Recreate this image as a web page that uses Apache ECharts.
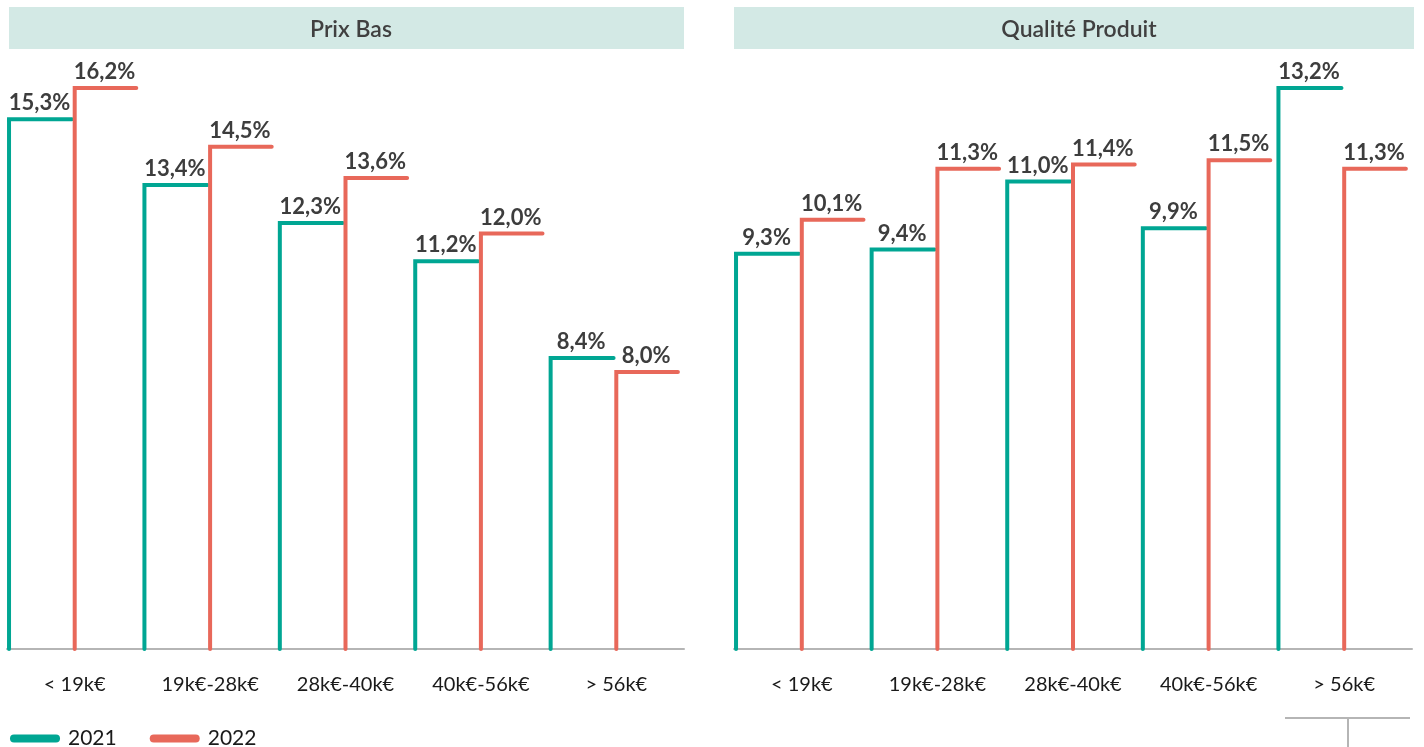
<!DOCTYPE html>
<html><head><meta charset="utf-8">
<script src="https://cdn.jsdelivr.net/npm/echarts@6/dist/echarts.min.js"></script>
<style>html,body{margin:0;padding:0;background:#fff}#c{width:1424px;height:747px}</style>
</head><body><div id="c"></div>
<script>
const categories = ['< 19k€', '19k€-28k€', '28k€-40k€', '40k€-56k€', '> 56k€'];
const prixBas2021 = [15.3, 13.4, 12.3, 11.2, 8.4];
const prixBas2022 = [16.2, 14.5, 13.6, 12.0, 8.0];
const qualite2021 = [9.3, 9.4, 11.0, 9.9, 13.2];
const qualite2022 = [10.1, 11.3, 11.4, 11.5, 11.3];
const panelTitles = ['Prix Bas', 'Qualité Produit'];
const years = ['2021', '2022'];

const TEAL = '#00a693', CORAL = '#e8685a';
const FONT = 'Lato, "Open Sans", sans-serif';

function fmt(v){ return v.toFixed(1).replace('.', ',') + '%'; }

function makeRender(offStart, offEnd, color){
  return function(params, api){
    const i = api.value(0), v = api.value(1);
    const top = api.coord([i, v]);
    const base = api.coord([i, 0]);
    const w = api.size([1, 0])[0];
    const x0 = top[0] + w*offStart, x1 = top[0] + w*offEnd;
    return {
      type: 'group',
      children: [
        {type:'polyline', shape:{points:[[x0, base[1]], [x0, top[1]], [x1, top[1]]]},
         style:{stroke:color, lineWidth:4, fill:null, lineJoin:'miter', lineCap:'round'}},
        {type:'text', style:{text:fmt(v), x:(x0+x1)/2 - 1, y:top[1]-5, align:'center', verticalAlign:'bottom',
          fill:'#3d3d3d', font:'bold 22px ' + FONT}}
      ]
    };
  };
}

const grids = [
  {left:7, width:677, top:88, height:561},
  {left:734, width:678, top:88, height:561}
];
const xAxes = grids.map((g, k) => ({
  type:'category', gridIndex:k, data:categories,
  axisLine:{lineStyle:{color:'#b5b5b5', width:2}}, axisTick:{show:false},
  axisLabel:{color:'#1a1a1a', fontSize:20, fontFamily:FONT, margin:26, interval:0}
}));
const yAxes = grids.map((g, k) => ({
  type:'value', gridIndex:k, min:0, max:function(e){return e.max;},
  show:false, splitLine:{show:false}
}));
const toData = arr => arr.map((v, i) => [i, v]);
const series = [
  {name:years[0], type:'custom', xAxisIndex:0, yAxisIndex:0, itemStyle:{color:TEAL}, encode:{x:0,y:1}, data:toData(prixBas2021), renderItem:makeRender(-0.485, -0.02, TEAL)},
  {name:years[1], type:'custom', xAxisIndex:0, yAxisIndex:0, itemStyle:{color:CORAL}, encode:{x:0,y:1}, data:toData(prixBas2022), renderItem:makeRender(0.0, 0.455, CORAL)},
  {name:years[0], type:'custom', xAxisIndex:1, yAxisIndex:1, itemStyle:{color:TEAL}, encode:{x:0,y:1}, data:toData(qualite2021), renderItem:makeRender(-0.485, -0.02, TEAL)},
  {name:years[1], type:'custom', xAxisIndex:1, yAxisIndex:1, itemStyle:{color:CORAL}, encode:{x:0,y:1}, data:toData(qualite2022), renderItem:makeRender(0.0, 0.455, CORAL)}
];

const chart = echarts.init(document.getElementById('c'), null, {renderer:'canvas'});
chart.setOption({
  animation:false,
  backgroundColor:'#fff',
  title:[
    {text:panelTitles[0], left:346, top:13, textAlign:'center', textStyle:{color:'#404040', fontSize:23, fontWeight:600, fontFamily:FONT}},
    {text:panelTitles[1], left:1074, top:13, textAlign:'center', textStyle:{color:'#404040', fontSize:23, fontWeight:600, fontFamily:FONT}}
  ],
  graphic:[
    {type:'rect', z:-1, shape:{x:9, y:7, width:675, height:42}, style:{fill:'#d3e9e5'}},
    {type:'rect', z:-1, shape:{x:734, y:7, width:680, height:42}, style:{fill:'#d3e9e5'}},
    {type:'line', shape:{x1:1285, y1:718, x2:1410, y2:718}, style:{stroke:'#b5b5b5', lineWidth:2}},
    {type:'line', shape:{x1:1348, y1:718, x2:1348, y2:747}, style:{stroke:'#b5b5b5', lineWidth:2}}
  ],
  legend:{
    data:years, left:5, top:723, itemWidth:50, itemHeight:8, itemGap:33,
    icon:'path://M4,0 H46 A4,4 0 0 1 46,8 H4 A4,4 0 0 1 4,0 Z',
    textStyle:{color:'#1a1a1a', fontSize:21, fontFamily:FONT, padding:[0,0,0,3]}
  },
  grid:grids, xAxis:xAxes, yAxis:yAxes, series:series
});
</script></body></html>
